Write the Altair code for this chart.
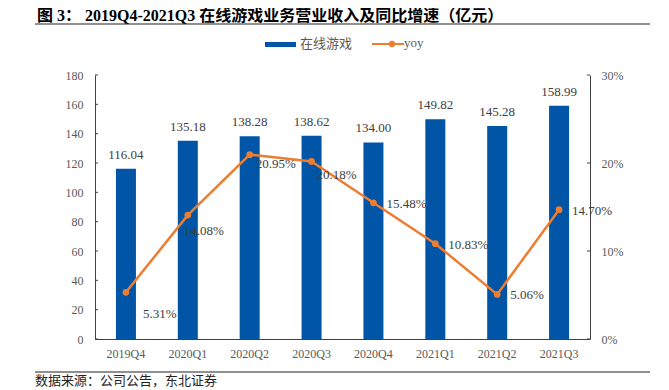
import altair as alt
import pandas as pd

# ---------------- data ----------------
quarters = ["2019Q4", "2020Q1", "2020Q2", "2020Q3", "2020Q4", "2021Q1", "2021Q2", "2021Q3"]
revenue = [116.04, 135.18, 138.28, 138.62, 134.00, 149.82, 145.28, 158.99]
yoy = [5.31, 14.08, 20.95, 20.18, 15.48, 10.83, 5.06, 14.70]
left_ticks = [0, 20, 40, 60, 80, 100, 120, 140, 160, 180]
right_ticks = [0, 10, 20, 30]

TITLE = "图  3：  2019Q4-2021Q3 在线游戏业务营业收入及同比增速（亿元）"
SOURCE = "数据来源：公司公告，东北证券"
LEG_BAR = "在线游戏"
LEG_LINE = "yoy"

# ---------------- styles ----------------
BLUE = "#0055A6"
ORANGE = "#ED7D31"
AXIS_C = "#404040"
LBL_C = "#595959"
TXT_C = "#404040"
SERIF = "Liberation Serif, Times New Roman, Noto Sans CJK SC"
CJK = "Liberation Serif, Noto Sans CJK SC"
W, H = 495, 264

df = pd.DataFrame({"quarter": quarters, "revenue": revenue, "yoy": yoy})
one = pd.DataFrame({"d": [0]})

x = alt.X(
    "quarter:N", sort=quarters,
    scale=alt.Scale(paddingInner=0, paddingOuter=0),
    axis=alt.Axis(title=None, labelAngle=0, ticks=False, labelPadding=9,
                  labelFont=SERIF, labelFontSize=12, labelColor=LBL_C,
                  domain=True, domainColor=AXIS_C, domainWidth=1, grid=False),
)

yl_scale = alt.Scale(domain=[0, 180])
yr_scale = alt.Scale(domain=[0, 30])
axis_l = alt.Axis(title=None, values=left_ticks, ticks=False, labelPadding=12,
                  labelFont=SERIF, labelFontSize=12, labelColor=LBL_C,
                  domain=True, domainColor=AXIS_C, domainWidth=1, grid=False)
axis_r = alt.Axis(orient="right", title=None, values=right_ticks,
                  labelExpr="datum.value + '%'", ticks=False, labelPadding=11,
                  labelFont=SERIF, labelFontSize=12, labelColor=LBL_C,
                  domain=True, domainColor=AXIS_C, domainWidth=1, grid=False)


def yl(field):
    return alt.Y(field, scale=yl_scale, axis=axis_l)


def yr(field):
    return alt.Y(field, scale=yr_scale, axis=axis_r)


bars = alt.Chart(df).mark_bar(size=20, color=BLUE).encode(x=x, y=yl("revenue:Q"))
bar_labels = alt.Chart(df).mark_text(dy=-14, baseline="middle", font=SERIF,
                                     fontSize=13, color=TXT_C).encode(
    x=x, y=yl("revenue:Q"), text=alt.Text("revenue:Q", format=".2f"),
)
lticks = alt.Chart(pd.DataFrame({"revenue": left_ticks})).mark_rule(color=AXIS_C).encode(
    y=yl("revenue:Q"), x=alt.value(0), x2=alt.value(3),
)
left = alt.layer(bars, bar_labels, lticks)

line = alt.Chart(df).mark_line(color=ORANGE, strokeWidth=2.5).encode(x=x, y=yr("yoy:Q"))
pts = alt.Chart(df).mark_circle(size=45, color=ORANGE, opacity=1).encode(x=x, y=yr("yoy:Q"))


def yoy_label(qs, dx, dy):
    return alt.Chart(df).transform_filter(
        alt.FieldOneOfPredicate(field="quarter", oneOf=qs)
    ).transform_calculate(
        lab="format(datum.yoy, '.2f') + '%'"
    ).mark_text(align="left", baseline="middle", dx=dx, dy=dy, font=SERIF,
                fontSize=13, color=TXT_C).encode(
        x=x, y=yr("yoy:Q"), text="lab:N",
    )


yoy_labels = [
    yoy_label(["2019Q4"], 17, 22),
    yoy_label(["2020Q1"], -4, 16),
    yoy_label(["2020Q2"], 6, 9),
    yoy_label(["2020Q3"], 5, 14),
    yoy_label(["2020Q4", "2021Q1", "2021Q2", "2021Q3"], 13, 1),
]
rticks = alt.Chart(pd.DataFrame({"yoy": right_ticks})).mark_rule(color=AXIS_C).encode(
    y=yr("yoy:Q"), x=alt.value(W - 3), x2=alt.value(W),
)
right = alt.layer(line, pts, *yoy_labels, rticks)

# ---------------- decorations ----------------
title = alt.Chart(one).mark_text(text=TITLE, align="left", baseline="middle", font=CJK,
                                 fontSize=16, fontWeight="bold", color="#000000").encode(
    x=alt.value(-58), y=alt.value(-59))
top_rule = alt.Chart(one).mark_rule(color="#222222", strokeWidth=1.2).encode(
    x=alt.value(-60), x2=alt.value(558), y=alt.value(-51))
bot_rule = alt.Chart(one).mark_rule(color="#222222", strokeWidth=1.2).encode(
    x=alt.value(-60), x2=alt.value(558), y=alt.value(297))
source = alt.Chart(one).mark_text(text=SOURCE, align="left", baseline="middle", font=CJK,
                                  fontSize=13, color="#222222").encode(
    x=alt.value(-60), y=alt.value(306))
leg_rect = alt.Chart(one).mark_rect(color=BLUE).encode(
    x=alt.value(170), x2=alt.value(201), y=alt.value(-33), y2=alt.value(-28))
leg_t1 = alt.Chart(one).mark_text(text=LEG_BAR, align="left", baseline="middle", font=CJK,
                                  fontSize=13, color=LBL_C).encode(
    x=alt.value(205), y=alt.value(-31))
leg_line = alt.Chart(one).mark_rule(color=ORANGE, strokeWidth=2).encode(
    x=alt.value(277), x2=alt.value(309), y=alt.value(-31))
leg_dot = alt.Chart(one).mark_circle(color=ORANGE, size=40, opacity=1).encode(
    x=alt.value(297), y=alt.value(-31))
leg_t2 = alt.Chart(one).mark_text(text=LEG_LINE, align="left", baseline="middle", font=SERIF,
                                  fontSize=13, color=LBL_C).encode(
    x=alt.value(309), y=alt.value(-32))

chart = alt.layer(
    left, right, title, top_rule, bot_rule, source, leg_rect, leg_t1, leg_line, leg_dot, leg_t2
).resolve_scale(y="independent").properties(
    width=W, height=H,
    autosize=alt.AutoSizeParams(type="none"),
    padding={"left": 87, "top": 67, "right": 60, "bottom": 60},
    background="white",
).configure_view(stroke=None)

chart.save("out.html", embed_options={"renderer": "svg", "actions": False})
